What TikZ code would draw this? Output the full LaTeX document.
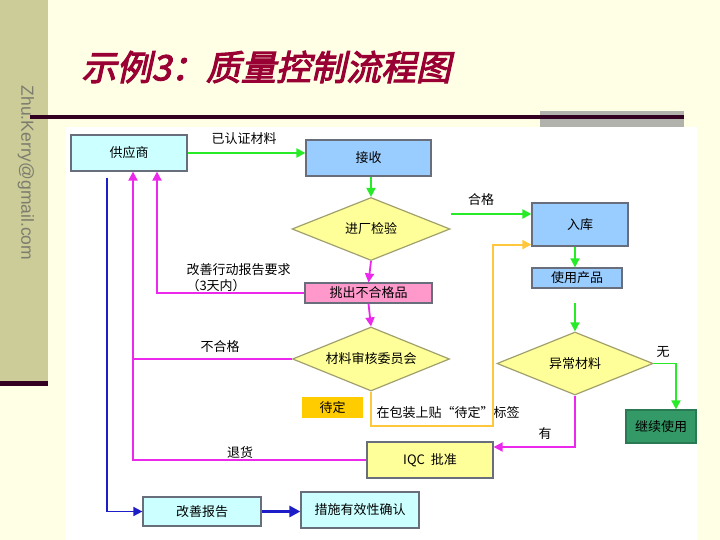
\documentclass[tikz,border=0pt]{standalone}
\usepackage{fontspec}
\usetikzlibrary{shapes.geometric,arrows.meta,calc}
\newfontfamily\cjk{Noto Sans CJK SC}
\newfontfamily\cjktitle[FakeSlant=0.22,FakeBold=3]{Noto Sans CJK SC}
\newfontfamily\lsans{Liberation Sans}
\definecolor{cream}{RGB}{255,255,229}
\definecolor{band}{RGB}{204,204,153}
\definecolor{darkline}{RGB}{51,0,34}
\definecolor{graybar}{RGB}{178,178,172}
\definecolor{titlered}{RGB}{153,0,51}
\definecolor{bandtext}{RGB}{125,125,110}
\definecolor{cyanfill}{RGB}{204,255,255}
\definecolor{bluefill}{RGB}{153,204,255}
\definecolor{yelfill}{RGB}{255,255,153}
\definecolor{pinkfill}{RGB}{255,153,204}
\definecolor{orangefill}{RGB}{255,204,0}
\definecolor{greenfill}{RGB}{51,153,102}
\definecolor{boxgray}{RGB}{105,110,125}
\definecolor{diagray}{RGB}{160,160,110}
\definecolor{lgreen}{RGB}{40,235,40}
\definecolor{lmag}{RGB}{235,40,235}
\definecolor{lblue}{RGB}{30,30,200}
\definecolor{lorange}{RGB}{255,200,60}
\begin{document}
\begin{tikzpicture}[x=1pt,y=-1pt,
  txt/.style={font=\cjk\fontsize{13}{16}\selectfont},
  box/.style={txt, draw=boxgray, line width=1.2pt, inner sep=0pt},
  dia/.style={txt, diamond, shape aspect=3, draw=diagray, fill=yelfill, line width=1.2pt, inner sep=0pt},
  garrow/.style={draw=lgreen, line width=1.8pt, -{Triangle[length=9pt,width=9pt]}},
  marrow/.style={draw=lmag, line width=1.8pt, -{Triangle[length=9pt,width=9pt]}},
  mline/.style={draw=lmag, line width=1.8pt},
  barrow/.style={draw=lblue, line width=1.6pt, -{Triangle[length=9pt,width=9pt]}},
  oarrow/.style={draw=lorange, line width=1.8pt, -{Triangle[length=9pt,width=9pt]}}]
\useasboundingbox (0,0) rectangle (720,540);
% background
\fill[cream] (0,0) rectangle (720,540);
\fill[band] (0,0) rectangle (48,383);
\fill[darkline] (0,381) rectangle (48,386);
\fill[white] (66,127) rectangle (697,540);
\fill[graybar] (540,111) rectangle (684,127);
\fill[darkline] (30,115.5) rectangle (684,119);
\node[font=\lsans\fontsize{17.5}{20}\selectfont, text=bandtext, rotate=-90] (mail) at (26,173) {Zhu.Kerry@gmail.com};
\node[font=\cjktitle\fontsize{35}{40}\selectfont, text=titlered, anchor=west] (title) at (78,67) {示例3：质量控制流程图};
% nodes
\node[box, fill=cyanfill, minimum width=116pt, minimum height=36pt] (sup) at (129,153) {供应商};
\node[box, fill=bluefill, minimum width=125pt, minimum height=36pt] (recv) at (368.5,158) {接收};
\node[dia, minimum width=158pt, minimum height=63pt] (insp) at (371,229) {进厂检验};
\node[box, fill=pinkfill, minimum width=127pt, minimum height=20pt] (rej) at (368.5,293) {挑出不合格品};
\node[dia, minimum width=157pt, minimum height=64pt] (mrb) at (371,359) {材料审核委员会};
\node[txt, fill=orangefill, inner sep=0pt, minimum width=61pt, minimum height=21pt] (pend) at (332.5,407.5) {待定};
\node[box, fill=yelfill, minimum width=126pt, minimum height=36pt] (iqc) at (430,460) {IQC\ \ 批准};
\node[box, fill=cyanfill, minimum width=118pt, minimum height=29pt] (imp) at (202,511.5) {改善报告};
\node[box, fill=cyanfill, minimum width=118pt, minimum height=36pt] (eff) at (360,510) {措施有效性确认};
\node[box, fill=bluefill, minimum width=96pt, minimum height=43pt] (stock) at (580,224.5) {入库};
\node[box, fill=bluefill, minimum width=90pt, minimum height=20pt] (use) at (577,278) {使用产品};
\node[dia, minimum width=156pt, minimum height=63pt] (abn) at (575,363.5) {异常材料};
\node[box, fill=greenfill, draw=greenfill!80!black, minimum width=70pt, minimum height=33pt] (cont) at (661,426.5) {继续使用};
% labels
\node[txt] (l1) at (244,139) {已认证材料};
\node[txt] (l2) at (481,200) {合格};
\node[txt, anchor=west, align=left] (l3) at (183,278) {改善行动报告要求\\（3天内）};
\node[txt] (l4) at (220,347) {不合格};
\node[txt] (l5) at (240,453) {退货};
\node[txt, anchor=west] (l6) at (373,413) {在包装上贴“待定”标签};
\node[txt] (l7) at (545,434) {有};
\node[txt] (l8) at (663,352) {无};
% connectors
\coordinate (oc) at (493,426);
\coordinate (u0) at (575,303);
\draw[garrow] (sup.east) -- (sup.east -| recv.west);
\draw[garrow] (insp.north |- recv.south) -- (insp.north);
\draw[garrow] ([yshift=15pt]insp.east) -- ([yshift=15pt]insp.east -| stock.west);
\draw[marrow] (insp.south) -- (rej.north);
\draw[marrow] (rej.west) -| ([xshift=28pt]sup.south);
\draw[marrow] (rej.south) -- (mrb.north);
\draw[mline] (mrb.west) -- (mrb.west -| 133,0);
\draw[marrow] (iqc.west) -| ([xshift=4pt]sup.south);
\draw[barrow] ([xshift=-22pt,yshift=-6pt]sup.south) |- (imp.west);
\draw[draw=lblue, line width=3pt, -{Triangle[length=11pt,width=11pt]}] (imp.east) -- (eff.west |- imp.east);
\draw[oarrow] (mrb.south) |- (oc) |- ([yshift=2pt]stock.south west);
\draw[garrow] (abn.north |- stock.south) -- (abn.north |- use.north);
\draw[garrow] (u0) -- (abn.north);
\draw[garrow] (abn.east) -| ([xshift=15pt]cont.north);
\draw[marrow] (abn.south) |- ([yshift=13pt]iqc.east);
\end{tikzpicture}
\end{document}
